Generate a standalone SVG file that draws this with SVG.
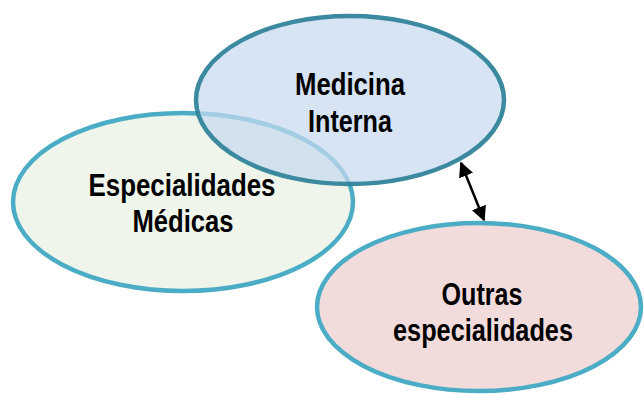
<svg xmlns="http://www.w3.org/2000/svg" width="644" height="394" viewBox="0 0 644 394">
<style>
.lbl{font-family:"Liberation Sans",Arial,sans-serif;font-weight:bold;font-size:32px;fill:#000;text-anchor:middle}
.conn{stroke:#000;stroke-width:2.5;fill:none}
</style>
<defs>
<marker id="ah" viewBox="0 0 10 10" refX="9" refY="5" markerWidth="6" markerHeight="6" orient="auto-start-reverse" markerUnits="strokeWidth">
<path d="M0,0 L10,5 L0,10 z" fill="#000"/>
</marker>
</defs>
<rect width="644" height="394" fill="#fff"/>
<g id="especialidades">
<ellipse cx="183" cy="202" rx="170" ry="89" fill="#eff5ea" stroke="#4bacc6" stroke-width="4.5"/>
<text class="lbl" x="182" y="196" textLength="187" lengthAdjust="spacingAndGlyphs">Especialidades</text>
<text class="lbl" x="183" y="232" textLength="101" lengthAdjust="spacingAndGlyphs">Médicas</text>
</g>
<g id="medicina">
<ellipse cx="350" cy="100" rx="154" ry="84" fill="#c6d9f0" fill-opacity="0.72" stroke="#31849b" stroke-width="4.5" stroke-opacity="0.95"/>
<text class="lbl" x="350" y="95" textLength="110" lengthAdjust="spacingAndGlyphs">Medicina</text>
<text class="lbl" x="350" y="132" textLength="84" lengthAdjust="spacingAndGlyphs">Interna</text>
</g>
<g id="outras">
<ellipse cx="479" cy="307" rx="162" ry="84" fill="#f2dcdb" stroke="#4bacc6" stroke-width="4.5"/>
<text class="lbl" x="482" y="305" textLength="81" lengthAdjust="spacingAndGlyphs">Outras</text>
<text class="lbl" x="483" y="341" textLength="180" lengthAdjust="spacingAndGlyphs">especialidades</text>
</g>
<g id="connectors">
<line class="conn" x1="461" y1="163" x2="484" y2="220" marker-start="url(#ah)" marker-end="url(#ah)"/>
</g>
</svg>
